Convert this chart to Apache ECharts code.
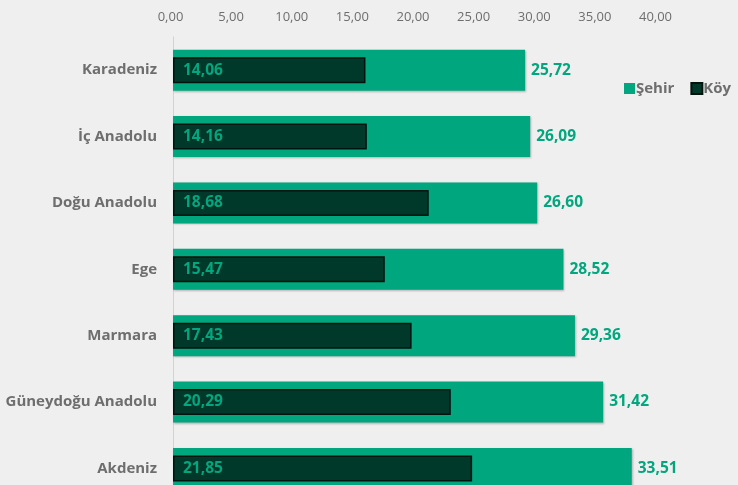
<!DOCTYPE html>
<html>
<head>
<meta charset="utf-8">
<script src="https://cdn.jsdelivr.net/npm/echarts@6/dist/echarts.min.js"></script>
<style>html,body{margin:0;padding:0;background:#efefef;}#c{width:738px;height:485px;}</style>
</head>
<body>
<div id="c"></div>
<script>
const categories = ['Karadeniz', 'İç Anadolu', 'Doğu Anadolu', 'Ege', 'Marmara', 'Güneydoğu Anadolu', 'Akdeniz'];
const sehir = [25.72, 26.09, 26.60, 28.52, 29.36, 31.42, 33.51];
const koy = [14.06, 14.16, 18.68, 15.47, 17.43, 20.29, 21.85];
const tickValues = [0, 5, 10, 15, 20, 25, 30, 35, 40];

const fmt = v => v.toFixed(2).replace('.', ',');
const FONT = '"Open Sans", "Noto Sans", sans-serif';
const GREEN = '#00a67d';
const DARK = '#00392a';
const GRAY = '#6e6e6e';

const chart = echarts.init(document.getElementById('c'));
chart.setOption({
  backgroundColor: '#efefef',
  animation: false,
  textStyle: { fontFamily: FONT },
  legend: {
    left: 619, top: 76,
    itemWidth: 11, itemHeight: 11, itemGap: 16,
    icon: 'rect',
    textStyle: { fontFamily: FONT, fontSize: 15, fontWeight: 'bold', color: GRAY, padding: [0, 0, 0, -4] },
    data: ['Şehir', 'Köy']
  },
  grid: [
    { left: 173, width: 547.6, top: 37, height: 464.6, outerBoundsMode: 'none', containLabel: false },
    { left: 170.5, width: 485, top: 37, height: 1, outerBoundsMode: 'none', containLabel: false }
  ],
  xAxis: [
    { gridIndex: 0, type: 'value', min: 0, max: 40, show: false },
    { gridIndex: 1, type: 'value', position: 'top', min: 0, max: 40, interval: 5,
      axisLine: { show: false }, axisTick: { show: false }, splitLine: { show: false },
      axisLabel: { margin: 13, fontSize: 13, color: GRAY, fontFamily: FONT,
        customValues: tickValues, formatter: v => fmt(v) } }
  ],
  yAxis: [
    { gridIndex: 0, type: 'category', data: categories, inverse: true,
      axisLine: { show: true, lineStyle: { color: '#d2d2d2', width: 1 } },
      axisTick: { show: false },
      axisLabel: { margin: 16, fontSize: 15, fontWeight: 'bold', color: GRAY, fontFamily: FONT } },
    { gridIndex: 0, type: 'category', data: categories, inverse: true, show: false },
    { gridIndex: 1, type: 'category', data: [''], show: false }
  ],
  series: [
    { name: 'Şehir', type: 'bar', xAxisIndex: 0, yAxisIndex: 0, data: sehir,
      barWidth: 41, z: 2,
      itemStyle: { color: GREEN, shadowColor: 'rgba(0,0,0,0.25)', shadowBlur: 2, shadowOffsetX: 1, shadowOffsetY: 1 },
      label: { show: true, position: 'right', distance: 6, formatter: p => fmt(p.value),
        fontSize: 15.5, fontWeight: 'bold', color: GREEN, fontFamily: FONT } },
    { name: 'Köy', type: 'bar', xAxisIndex: 0, yAxisIndex: 1, data: koy,
      barWidth: 26, z: 3,
      itemStyle: { color: DARK, borderColor: '#00140d', borderWidth: 1.5 },
      label: { show: true, position: 'insideLeft', distance: 10, formatter: p => fmt(p.value),
        fontSize: 15.5, fontWeight: 'bold', color: GREEN, fontFamily: FONT } }
  ]
});
</script>
</body>
</html>
